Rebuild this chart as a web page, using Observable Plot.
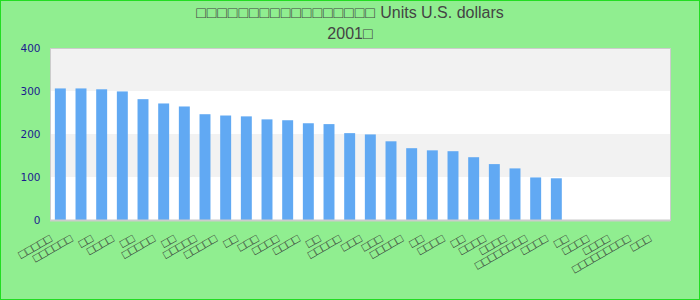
<!DOCTYPE html>
<html><head><meta charset="utf-8">
<script src="https://cdn.jsdelivr.net/npm/d3@7"></script>
<script src="https://cdn.jsdelivr.net/npm/@observablehq/plot@0.6"></script>
<style>
html,body{margin:0;padding:0;width:700px;height:300px;background:#90ee90;overflow:hidden;font-family:"Liberation Sans",Arial,sans-serif;}
#frame{position:absolute;left:0;top:0;width:700px;height:300px;box-sizing:border-box;border:1px solid #22dd22;pointer-events:none;}
#title{position:absolute;left:0;top:2px;width:700px;text-align:center;font-size:16px;line-height:21px;color:#444;}
#title .box{letter-spacing:0.9px;}
#chart{position:absolute;left:0;top:40px;}
</style></head><body>
<div id="title"><div id="t1"></div><div id="t2"></div></div>
<div id="chart"></div>
<div id="frame"></div>
<script>
const titleBoxes = "□□□□□□□□□□□□□□□□□";
const titleUnits = " Units U.S. dollars";
const titleLine2 = "2001□";
const labels = [
  "□□□□□","□□□□□□","□□","□□□□","□□","□□□□□","□□","□□□□□","□□□□□","□□",
  "□□□","□□□□","□□□□","□□","□□□□□","□□□","□□□","□□□□□","□□","□□□□",
  "□□","□□□□","□□□□","□□□□□□□□","□□□□","□□","□□□□","□□□□","□□□□□□□□□","□□□"
];
const values = [306,306,304,299,281,271,264,246,243,241,234,232,225,223,202,199,183,167,162,160,146,130,120,99,97,null,null,null,null,null];
const yTicks = [0,100,200,300,400];
const stripeStarts = [100,300];
const stripeEnds = [200,400];

const t1 = document.getElementById("t1");
const sp = document.createElement("span");
sp.className = "box";
sp.textContent = titleBoxes;
t1.appendChild(sp);
t1.appendChild(document.createTextNode(titleUnits));
document.getElementById("t2").textContent = titleLine2;

const data = labels.map((label,i)=>({i, label, value: values[i]}));
const stripes = stripeStarts.map((s,k)=>({y1:s, y2:stripeEnds[k]}));

const chart = Plot.plot({
  width:700, height:260,
  marginLeft:50, marginRight:30, marginTop:8, marginBottom:80,
  style:{background:"transparent", overflow:"visible"},
  x:{type:"band", domain:d3.range(labels.length), paddingInner:0.47, paddingOuter:0.235, round:false, axis:null},
  y:{domain:[0,400], axis:null},
  marks:[
    Plot.frame({fill:"white"}),
    Plot.rect(stripes, {y1:"y1", y2:"y2", fill:"#f2f2f2"}),
    Plot.barY(data.filter(d=>d.value!=null), {x:"i", y:"value", fill:"#61a9f3"}),
    Plot.frame({stroke:"#cccccc"}),
    Plot.ruleY([0], {stroke:"#cccccc", strokeWidth:2}),
    Plot.axisY({ticks:yTicks, tickSize:0, tickPadding:10, tickFormat:d3.format("d"), fill:"#1b1b8f", fontSize:10.5, fontFamily:"DejaVu Sans", label:null}),
    Plot.axisX({ticks:d3.range(labels.length), tickFormat:i=>labels[i], tickRotate:-30, tickSize:0, tickPadding:17, fill:"#333", fontSize:12, fontFamily:"Liberation Sans", dx:-10, label:null})
  ]
});
document.getElementById("chart").appendChild(chart);
</script>
</body></html>
